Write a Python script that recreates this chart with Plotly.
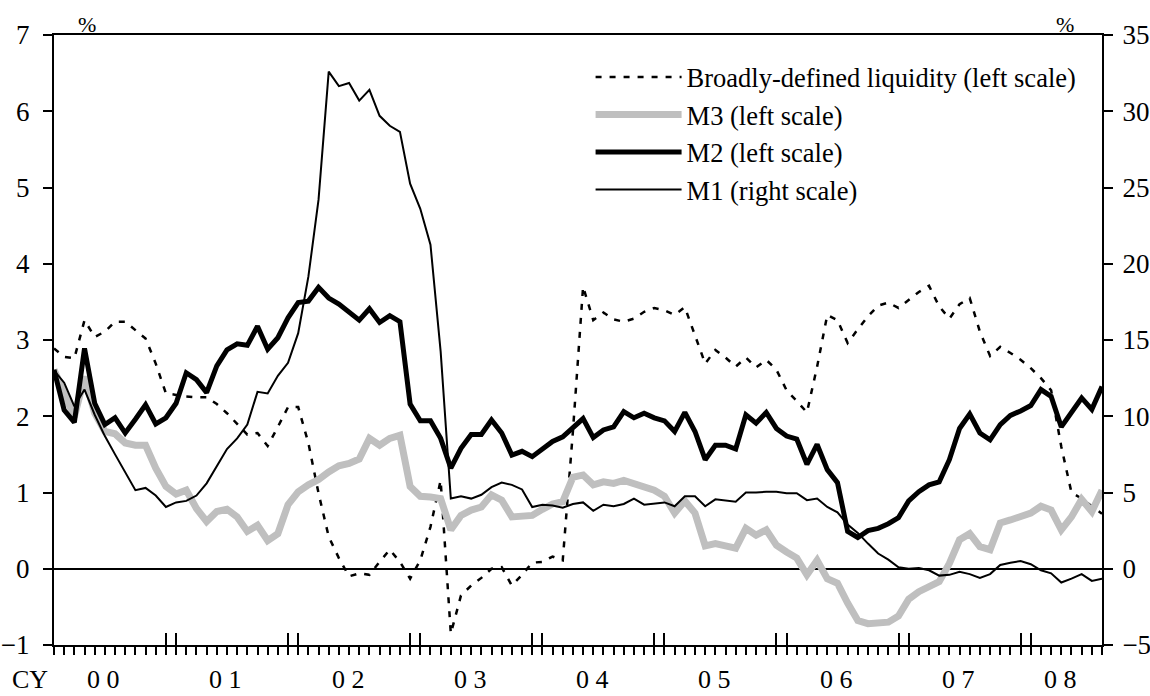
import plotly.graph_objects as go
import pandas as pd

# monthly, Jan 2000 - Aug 2008, y/y % change
months = pd.date_range("2000-01-01", "2008-08-01", freq="MS")
pos = list(range(len(months)))

broad = [2.89, 2.78, 2.76, 3.26, 3.04, 3.11, 3.24, 3.24, 3.13, 3.02, 2.69, 2.30,
         2.28, 2.26, 2.25, 2.25, 2.16, 2.04, 1.90, 1.76, 1.78, 1.61, 1.86, 2.12,
         2.12, 1.65, 0.99, 0.42, 0.14, -0.10, -0.06, -0.08, 0.09, 0.25, 0.09, -0.13,
         0.11, 0.55, 1.16, -0.85, -0.35, -0.22, -0.12, 0.00, 0.02, -0.22, -0.08, 0.08,
         0.09, 0.16, 0.11, 1.80, 3.70, 3.26, 3.36, 3.27, 3.24, 3.28, 3.37, 3.42,
         3.39, 3.33, 3.43, 3.07, 2.69, 2.87, 2.77, 2.65, 2.77, 2.64, 2.74, 2.61,
         2.34, 2.20, 2.05, 2.65, 3.33, 3.26, 2.96, 3.14, 3.31, 3.45, 3.49, 3.42,
         3.53, 3.63, 3.71, 3.44, 3.28, 3.47, 3.55, 3.11, 2.79, 2.91, 2.83, 2.74,
         2.63, 2.50, 2.34, 1.60, 1.00, 0.92, 0.82, 0.72]

m3 = [2.61, 2.30, 1.99, 2.52, 2.04, 1.80, 1.77, 1.65, 1.62, 1.62, 1.32, 1.08,
      0.98, 1.03, 0.79, 0.62, 0.75, 0.78, 0.68, 0.49, 0.57, 0.37, 0.46, 0.84,
      1.01, 1.10, 1.17, 1.27, 1.35, 1.38, 1.44, 1.71, 1.62, 1.71, 1.75, 1.08,
      0.95, 0.94, 0.92, 0.51, 0.70, 0.77, 0.81, 0.97, 0.90, 0.68, 0.68, 0.70,
      0.78, 0.85, 0.88, 1.20, 1.23, 1.10, 1.14, 1.12, 1.16, 1.12, 1.08, 1.03,
      0.95, 0.73, 0.89, 0.73, 0.30, 0.33, 0.30, 0.27, 0.53, 0.44, 0.51, 0.31,
      0.22, 0.14, -0.08, 0.11, -0.13, -0.19, -0.45, -0.68, -0.72, -0.70, -0.70, -0.62,
      -0.40, -0.30, -0.24, -0.17, 0.07, 0.38, 0.46, 0.29, 0.25, 0.60, 0.64, 0.68,
      0.73, 0.82, 0.77, 0.51, 0.68, 0.91, 0.75, 1.03]

m2 = [2.61, 2.08, 1.92, 2.89, 2.17, 1.89, 1.98, 1.78, 1.96, 2.15, 1.90, 1.98,
      2.17, 2.57, 2.48, 2.31, 2.66, 2.87, 2.95, 2.93, 3.18, 2.88, 3.03, 3.29,
      3.49, 3.51, 3.69, 3.55, 3.47, 3.37, 3.26, 3.41, 3.23, 3.32, 3.24, 2.16,
      1.94, 1.94, 1.71, 1.32, 1.58, 1.76, 1.76, 1.95, 1.78, 1.49, 1.54, 1.47,
      1.57, 1.67, 1.73, 1.86, 1.97, 1.72, 1.82, 1.86, 2.06, 1.98, 2.04, 1.98,
      1.94, 1.80, 2.05, 1.80, 1.43, 1.62, 1.62, 1.57, 2.02, 1.91, 2.05, 1.84,
      1.74, 1.70, 1.37, 1.63, 1.30, 1.13, 0.49, 0.41, 0.50, 0.53, 0.59, 0.67,
      0.89, 1.01, 1.10, 1.14, 1.43, 1.84, 2.03, 1.78, 1.69, 1.89, 2.01, 2.07,
      2.14, 2.35, 2.26, 1.86, 2.04, 2.24, 2.09, 2.39]

# right scale
m1 = [13.0, 12.2, 10.65, 11.75, 10.1, 8.7, 7.5, 6.3, 5.15, 5.3, 4.8, 4.05,
      4.35, 4.45, 4.8, 5.6, 6.75, 7.85, 8.55, 9.45, 11.6, 11.5, 12.65, 13.5,
      15.45, 19.15, 24.2, 32.6, 31.65, 31.85, 30.7, 31.4, 29.7, 29.05, 28.65, 25.25,
      23.6, 21.25, 14.25, 4.6, 4.75, 4.6, 4.85, 5.35, 5.65, 5.5, 5.2, 4.05,
      4.2, 4.15, 4.0, 4.25, 4.35, 3.8, 4.2, 4.1, 4.25, 4.6, 4.2, 4.3,
      4.35, 4.1, 4.75, 4.75, 4.1, 4.55, 4.5, 4.4, 5.0, 5.0, 5.05, 5.05,
      4.95, 4.95, 4.5, 4.6, 4.05, 3.7, 2.9, 2.35, 1.65, 1.0, 0.6, 0.1,
      0.0, 0.05, -0.1, -0.45, -0.4, -0.2, -0.35, -0.6, -0.35, 0.25, 0.4, 0.5,
      0.3, -0.1, -0.3, -0.9, -0.65, -0.35, -0.8, -0.65]

year_labels = ["0 0", "0 1", "0 2", "0 3", "0 4", "0 5", "0 6", "0 7", "0 8"]

#%%
# long ticks at Dec and Jan, label in the middle of each year
long_ticks = [i for i, m in enumerate(months) if m.month == 12 or (m.month == 1 and i > 0)]
year_pos = []
for y in sorted(set(months.year)):
    idx = [i for i, m in enumerate(months) if m.year == y]
    year_pos.append((idx[0] + idx[-1]) / 2 - 0.6)

FONT = "Liberation Serif"

fig = go.Figure()

fig.add_trace(go.Scatter(x=pos, y=broad, mode="lines", legendgroup="a",
                         name="Broadly-defined liquidity (left scale)",
                         line=dict(color="black", width=2.5, dash="6px,8px")))
fig.add_trace(go.Scatter(x=pos, y=m3, mode="lines", legendgroup="b",
                         name="M3 (left scale)",
                         line=dict(color="#bfbfbf", width=7)))
fig.add_trace(go.Scatter(x=pos, y=m2, mode="lines", legendgroup="c",
                         name="M2 (left scale)",
                         line=dict(color="black", width=5)))
# M1 on the right scale; its x axis carries the long year ticks
fig.add_trace(go.Scatter(x=pos, y=m1, mode="lines", legendgroup="d",
                         xaxis="x2", yaxis="y2",
                         name="M1 (right scale)",
                         line=dict(color="black", width=2)))

annotations = [dict(x=p, y=0, xref="x", yref="paper", text=t, showarrow=False,
                    xanchor="center", yanchor="bottom", yshift=-51, font=dict(size=26))
               for p, t in zip(year_pos, year_labels)]
annotations.append(dict(x=0, y=0, xref="paper", yref="paper", text="CY", showarrow=False,
                        xanchor="center", xshift=-24, yshift=-51, yanchor="bottom",
                        font=dict(size=26)))
annotations.append(dict(x=0.0315, y=1, xref="paper", yref="paper", text="%", showarrow=False,
                        xanchor="center", yanchor="bottom", yshift=-4, font=dict(size=22)))
annotations.append(dict(x=0.9647, y=1, xref="paper", yref="paper", text="%", showarrow=False,
                        xanchor="center", yanchor="bottom", yshift=-4, font=dict(size=22)))

fig.update_layout(
    width=1150, height=696,
    margin=dict(l=54, r=48, t=35, b=51, autoexpand=False),
    paper_bgcolor="white", plot_bgcolor="white",
    font=dict(family=FONT, size=27, color="black"),
    legend=dict(x=0.512, y=0.97, xanchor="left", yanchor="top",
                bgcolor="rgba(0,0,0,0)", font=dict(size=26.5),
                itemwidth=86, tracegroupgap=0),
    xaxis=dict(range=[0, len(pos) - 1], tickvals=pos, ticks="outside", ticklen=8,
               tickwidth=2, tickcolor="black", showticklabels=False,
               showline=True, linecolor="black", linewidth=2, mirror=True,
               showgrid=False, zeroline=False, automargin=False),
    xaxis2=dict(overlaying="x", anchor="y2", side="bottom", range=[0, len(pos) - 1],
                tickvals=long_ticks, ticks="inside", ticklen=12, tickwidth=2,
                tickcolor="black", showticklabels=False, showline=False,
                showgrid=False, zeroline=False, automargin=False),
    yaxis=dict(range=[-1, 7], dtick=1, ticks="outside", ticklen=9, tickwidth=2,
               tickcolor="black", showline=True, linecolor="black", linewidth=2,
               showgrid=False, zeroline=True, zerolinecolor="black", zerolinewidth=2,
               ticklabelstandoff=8, automargin=False),
    yaxis2=dict(overlaying="y", side="right", range=[-5, 35], dtick=5,
                ticks="outside", ticklen=9, tickwidth=2, tickcolor="black",
                showline=True, linecolor="black", linewidth=2,
                showgrid=False, zeroline=False, ticklabelstandoff=4, automargin=False),
    annotations=annotations,
)

# drop the default 8px page margin so the figure fills the window exactly
fig.write_html("out.html", config={"displayModeBar": False},
               post_script="document.body.style.margin='0';")
